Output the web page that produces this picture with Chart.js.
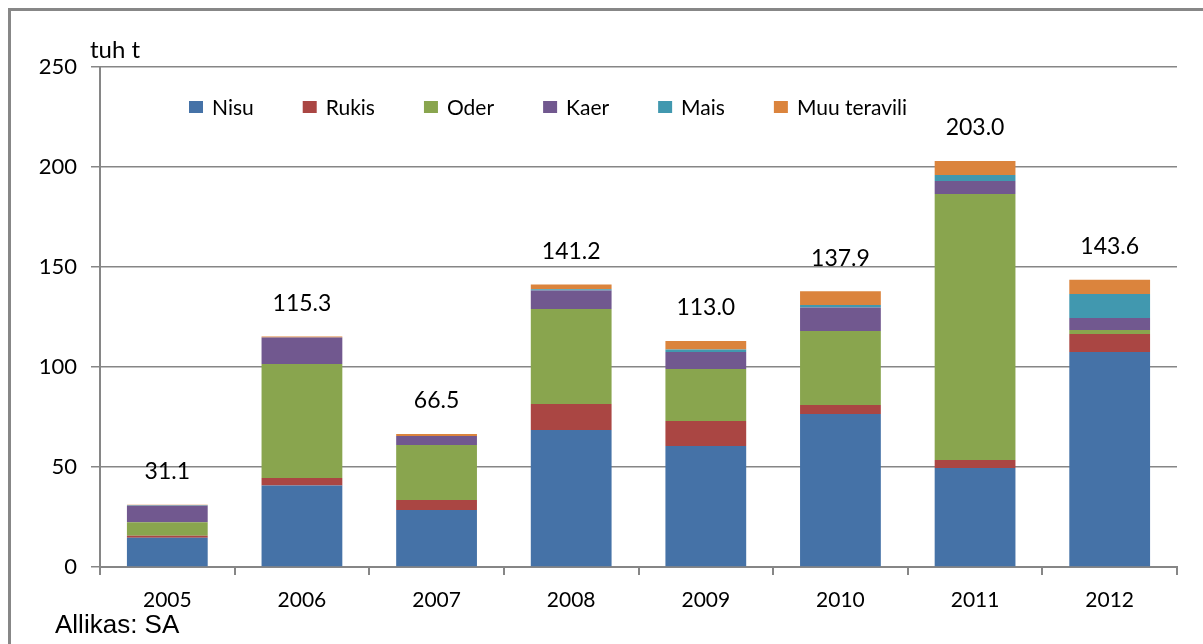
<!DOCTYPE html>
<html>
<head>
<meta charset="utf-8">
<script src="https://cdn.jsdelivr.net/npm/chart.js"></script>
<style>
    html, body { margin: 0; padding: 0; background: #fff; overflow: hidden; }
    #wrap { position: relative; width: 1203px; height: 644px; overflow: hidden; }
    #frame { position: absolute; left: 8px; top: 8px; width: 1300px; height: 700px; border: 3px solid #878787; }
    #chart1 { position: absolute; left: 0; top: 0; }
    .txt { position: absolute; white-space: nowrap; line-height: 1; color: #000; }
    #unit { left: 90px; top: 34px; font: 24px Lato, sans-serif; }
    #source { left: 55px; top: 609px; font: 26px "Liberation Sans", Arial, sans-serif; }
</style>
</head>
<body>
<div id="wrap">
    <div id="frame"></div>
    <canvas id="chart1" width="1203" height="644"></canvas>
    <div class="txt" id="unit">tuh t</div>
    <div class="txt" id="source">Allikas: SA</div>
</div>
<script>
    var years = ['2005', '2006', '2007', '2008', '2009', '2010', '2011', '2012'];
    var nisu  = [14.6, 40.8, 28.5, 68.5, 60.5, 76.5, 49.5, 107.5];
    var rukis = [1.0, 3.7, 5.0, 13.0, 12.5, 4.5, 4.0, 9.0];
    var oder  = [6.8, 57.0, 27.5, 47.5, 26.0, 37.0, 133.0, 2.0];
    var kaer  = [8.2, 13.3, 4.5, 9.2, 8.5, 11.8, 6.5, 6.0];
    var mais  = [0.3, 0.0, 0.0, 0.7, 1.2, 1.2, 3.0, 12.0];
    var muu   = [0.2, 0.5, 1.0, 2.3, 4.3, 6.9, 7.0, 7.1];
    var yTicks = [0, 50, 100, 150, 200, 250];

    var axisGray = '#868686';

    function ds(label, data, color) {
        return {
            label: label,
            data: data,
            backgroundColor: color,
            borderWidth: 0,
            barPercentage: 0.6,
            categoryPercentage: 1.0
        };
    }

    // totals above each stack + legend drawn inside the plot area
    var extras = {
        id: 'extras',
        afterDatasetsDraw: function (chart) {
            var ctx = chart.ctx;
            var sets = chart.data.datasets;
            var last = chart.getDatasetMeta(sets.length - 1);
            ctx.save();
            ctx.fillStyle = '#000';
            ctx.font = '23px Lato, sans-serif';
            ctx.textAlign = 'center';
            ctx.textBaseline = 'middle';
            years.forEach(function (y, i) {
                var sum = 0;
                sets.forEach(function (d) { sum += d.data[i]; });
                var bar = last.data[i];
                ctx.fillText(sum.toFixed(1), bar.x, chart.scales.y.getPixelForValue(sum) - 33);
            });

            // legend
            ctx.font = '21px Lato, sans-serif';
            ctx.textAlign = 'left';
            var x = 189, yc = 107;
            sets.forEach(function (d) {
                ctx.fillStyle = d.backgroundColor;
                ctx.fillRect(x, yc - 6, 14, 12);
                ctx.fillStyle = '#000';
                ctx.fillText(d.label, x + 23, yc + 1);
                x += 23 + ctx.measureText(d.label).width + 49;
            });
            ctx.restore();
        }
    };

    var ctx1 = document.getElementById('chart1').getContext('2d');
    new Chart(ctx1, {
        type: 'bar',
        data: {
            labels: years,
            datasets: [
                ds('Nisu', nisu, '#4572A7'),
                ds('Rukis', rukis, '#AA4643'),
                ds('Oder', oder, '#89A54E'),
                ds('Kaer', kaer, '#71588F'),
                ds('Mais', mais, '#4198AF'),
                ds('Muu teravili', muu, '#DB843D')
            ]
        },
        options: {
            responsive: false,
            animation: false,
            layout: { padding: { top: 67, right: 26, left: 0, bottom: 0 } },
            plugins: {
                legend: { display: false },
                tooltip: { enabled: false }
            },
            scales: {
                x: {
                    stacked: true,
                    offset: true,
                    grid: {
                        offset: true,
                        drawOnChartArea: false,
                        drawTicks: true,
                        tickLength: 8,
                        color: axisGray,
                        lineWidth: 2
                    },
                    border: { display: true, color: axisGray, width: 2 },
                    ticks: {
                        color: '#000',
                        font: { family: 'Lato', size: 21 },
                        padding: 13,
                        maxRotation: 0
                    },
                    afterFit: function (scale) { scale.height = 77; }
                },
                y: {
                    stacked: true,
                    min: 0,
                    max: 250,
                    afterBuildTicks: function (scale) {
                        scale.ticks = yTicks.map(function (v) { return { value: v }; });
                    },
                    grid: {
                        color: axisGray,
                        lineWidth: 1.5,
                        drawTicks: true,
                        tickLength: 9
                    },
                    border: { display: true, color: axisGray, width: 2 },
                    ticks: {
                        color: '#000',
                        font: { family: 'Lato', size: 22 },
                        padding: 14
                    },
                    afterFit: function (scale) { scale.width = 100; }
                }
            }
        },
        plugins: [extras]
    });
</script>
</body>
</html>
